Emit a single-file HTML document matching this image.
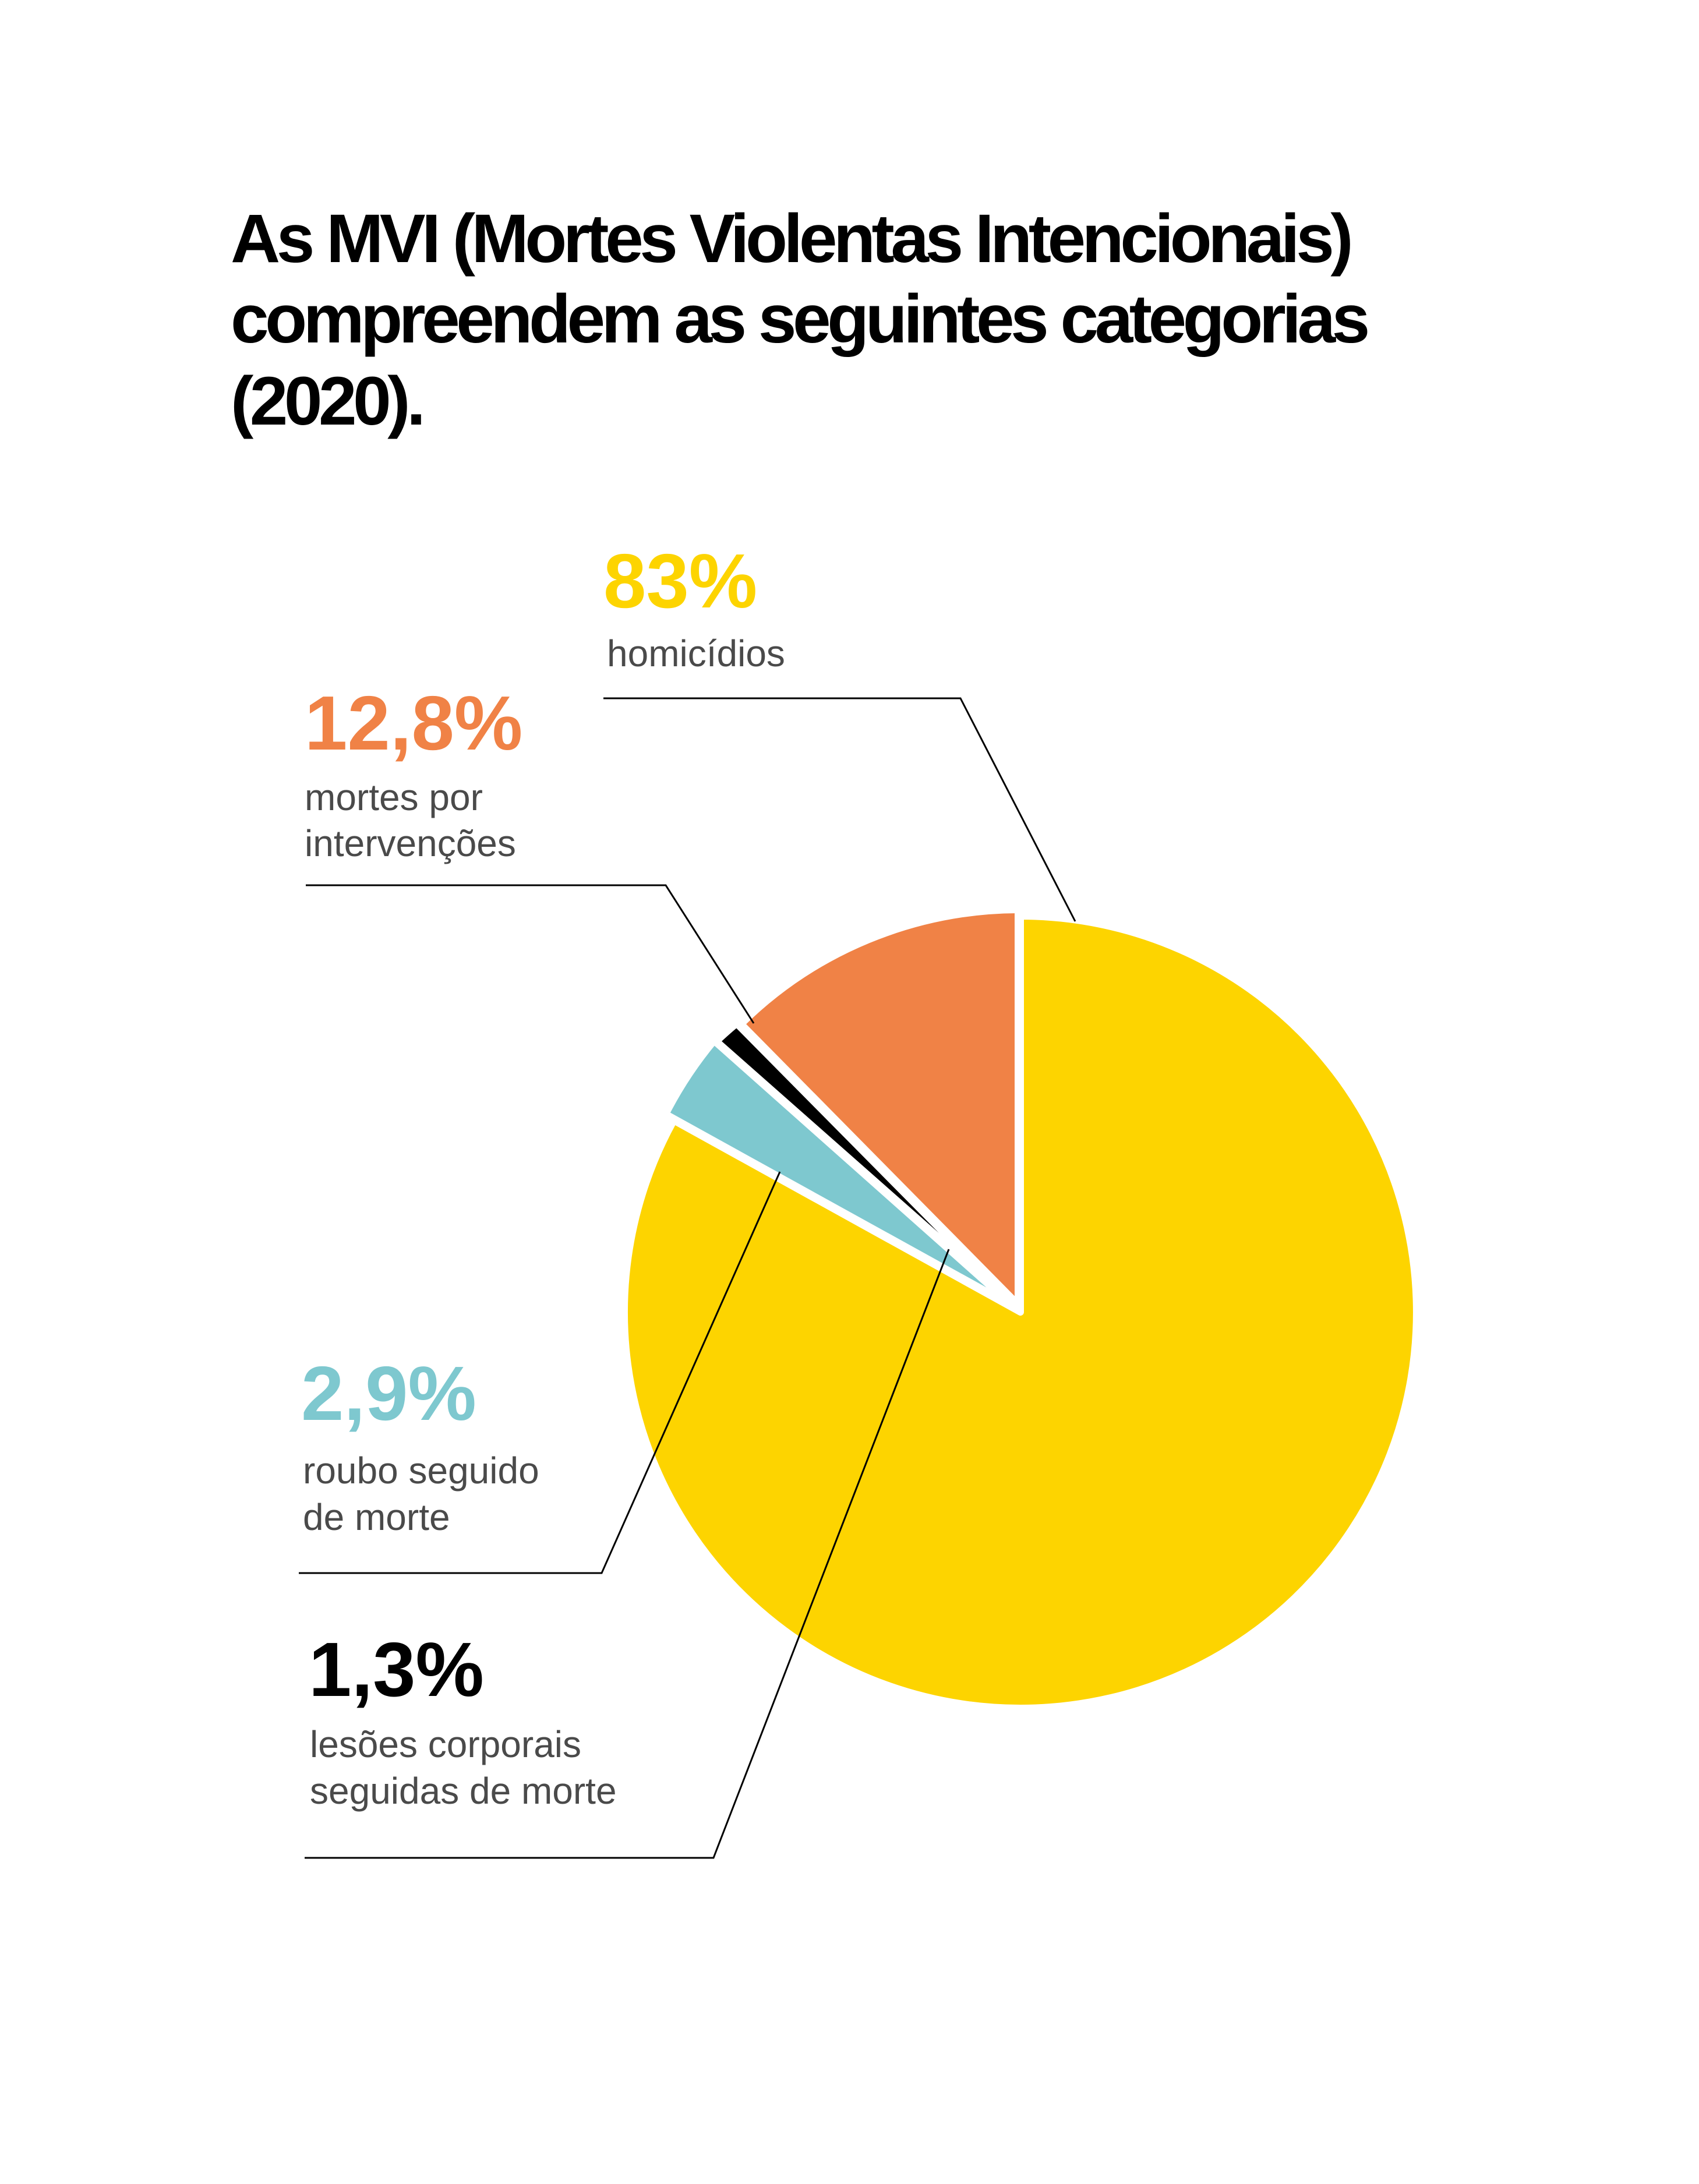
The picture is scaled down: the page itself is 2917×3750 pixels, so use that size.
<!DOCTYPE html>
<html><head><meta charset="utf-8"><style>
html,body{margin:0;padding:0;background:#fff;}
body{width:2917px;height:3750px;position:relative;overflow:hidden;}
svg{position:absolute;left:0;top:0;}
</style></head><body>
<svg width="2917" height="3750" viewBox="0 0 2917 3750" xmlns="http://www.w3.org/2000/svg">
<g font-family="Liberation Sans, Arial, sans-serif" font-weight="bold" font-size="118" fill="#000" letter-spacing="-6.5">
<text x="396" y="450">As MVI (Mortes Violentas Intencionais)</text>
<text x="396" y="588">compreendem as seguintes categorias</text>
<text x="396" y="729">(2020).</text>
</g>
<!-- pie -->
<g stroke="#fff" stroke-width="12" stroke-linejoin="round">
<path d="M1752,2253 L1752,1573 A680,680 0 1 1 1156.9,1923.9 Z" fill="#FDD400"/>
<path d="M1748,2240 L1272.6,1758.3 A680,680 0 0 1 1748,1562 Z" fill="#F08246"/>
<path d="M1740,2238 L1230.2,1788.0 A680,680 0 0 1 1264.7,1757.4 Z" fill="#000"/>
<path d="M1738,2242 L1142.9,1912.9 A680,680 0 0 1 1226.0,1787.0 Z" fill="#7EC8CF"/>
</g>
<!-- leader lines -->
<g fill="none" stroke="#000" stroke-width="3">
<polyline points="1036,1199 1649,1199 1846,1582"/>
<polyline points="525,1520 1143,1520 1294,1757"/>
<polyline points="513,2701 1033,2701 1339,2012"/>
<polyline points="523,3190 1225,3190 1629,2145"/>
</g>
<g font-family="Liberation Sans, Arial, sans-serif" font-weight="bold" font-size="132">
<text x="1036" y="1043" fill="#FDD400">83%</text>
<text x="523" y="1287" fill="#F08246">12,8%</text>
<text x="517" y="2438" fill="#7EC8CF">2,9%</text>
<text x="530" y="2912" fill="#000">1,3%</text>
</g>
<g font-family="Liberation Sans, Arial, sans-serif" font-size="64" fill="#4a4a4a">
<text x="1042" y="1144">homicídios</text>
<text x="523" y="1391">mortes por</text>
<text x="523" y="1470">intervenções</text>
<text x="520" y="2547">roubo seguido</text>
<text x="520" y="2627">de morte</text>
<text x="532" y="3017">lesões corporais</text>
<text x="532" y="3097">seguidas de morte</text>
</g>
</svg>
</body></html>
